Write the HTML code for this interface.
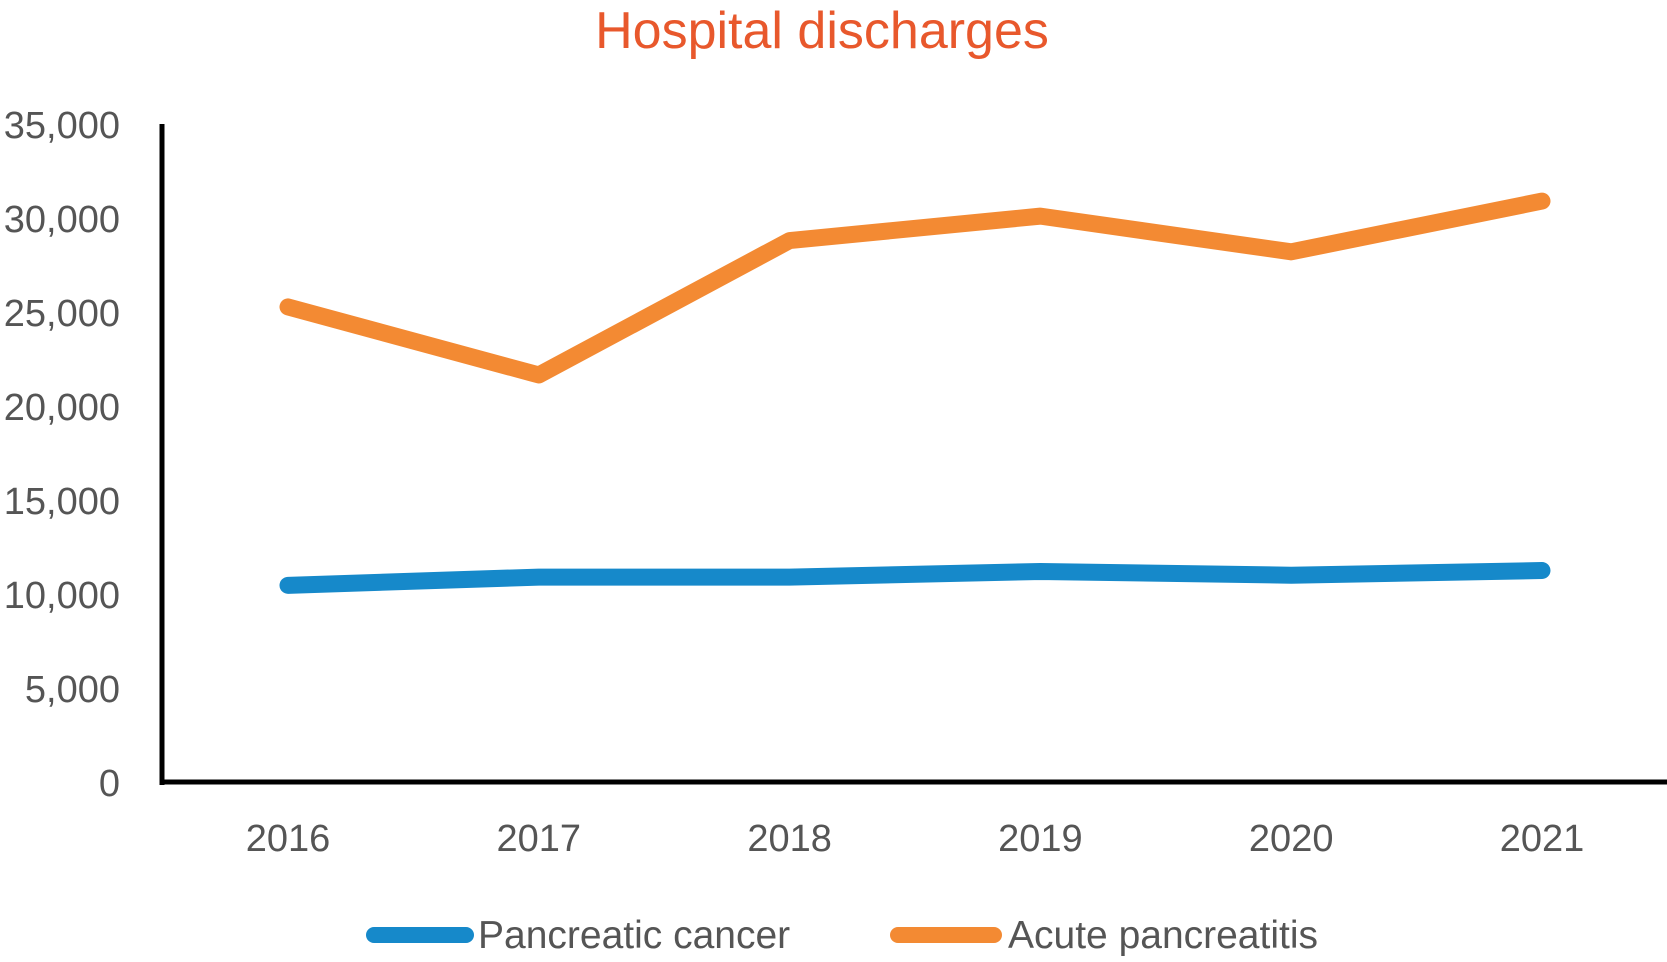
<!DOCTYPE html>
<html><head><meta charset="utf-8"><style>
body{margin:0;background:#fff;}
svg{display:block;font-family:"Liberation Sans",sans-serif;}
</style></head><body>
<svg id="chart" width="1667" height="962" viewBox="0 0 1667 962">
<text x="822" y="48" text-anchor="middle" font-size="52" fill="#E8582C">Hospital discharges</text>
<g id="yticks"></g><g id="xticks"></g><g id="series"></g>
<line x1="162" y1="124" x2="162" y2="785" stroke="#000" stroke-width="5"/>
<line x1="160" y1="782" x2="1667" y2="782" stroke="#000" stroke-width="5"/>
<g>
<line x1="374" y1="935" x2="466" y2="935" stroke="#1689CA" stroke-width="16" stroke-linecap="round"/>
<text x="478" y="948" font-size="39" fill="#555">Pancreatic cancer</text>
<line x1="898" y1="935" x2="994" y2="935" stroke="#F38A33" stroke-width="16" stroke-linecap="round"/>
<text x="1008" y="948" font-size="39" fill="#555">Acute pancreatitis</text>
</g>
</svg>
<script>
const categories=["2016","2017","2018","2019","2020","2021"];
const pancreaticCancer=[10460,10900,10900,11200,11000,11250];
const acutePancreatitis=[25270,21650,28800,30100,28200,30900];
const yTicks=[0,5000,10000,15000,20000,25000,30000,35000];
const NS="http://www.w3.org/2000/svg";
const y0=782,yTop=124,yMax=35000;
const xFirst=288,xStep=250.8;
function yScale(v){return y0-(v/yMax)*(y0-yTop);}
function xScale(i){return xFirst+i*xStep;}
const yt=document.getElementById('yticks');
yTicks.forEach(v=>{
 const t=document.createElementNS(NS,'text');
 t.setAttribute('x',120);t.setAttribute('y',yScale(v)+14);
 t.setAttribute('text-anchor','end');t.setAttribute('font-size','38');t.setAttribute('fill','#555');
 t.textContent=v.toLocaleString('en-US');
 
 
 yt.appendChild(t);
});
const xt=document.getElementById('xticks');
categories.forEach((c,i)=>{
 const t=document.createElementNS(NS,'text');
 t.setAttribute('x',xScale(i));t.setAttribute('y',851);
 t.setAttribute('text-anchor','middle');t.setAttribute('font-size','38');t.setAttribute('fill','#555');
 t.textContent=c;
 
 
 xt.appendChild(t);
});
const sg=document.getElementById('series');
[[pancreaticCancer,'#1689CA','line-pancreatic-cancer'],[acutePancreatitis,'#F38A33','line-acute-pancreatitis']].forEach(([vals,col,name])=>{
 const p=document.createElementNS(NS,'polyline');
 p.setAttribute('points',vals.map((v,i)=>xScale(i)+','+yScale(v)).join(' '));
 p.setAttribute('fill','none');p.setAttribute('stroke',col);p.setAttribute('stroke-width','17');
 p.setAttribute('stroke-linecap','round');p.setAttribute('stroke-linejoin','round');
 
 
 sg.appendChild(p);
});
</script>
</body></html>
